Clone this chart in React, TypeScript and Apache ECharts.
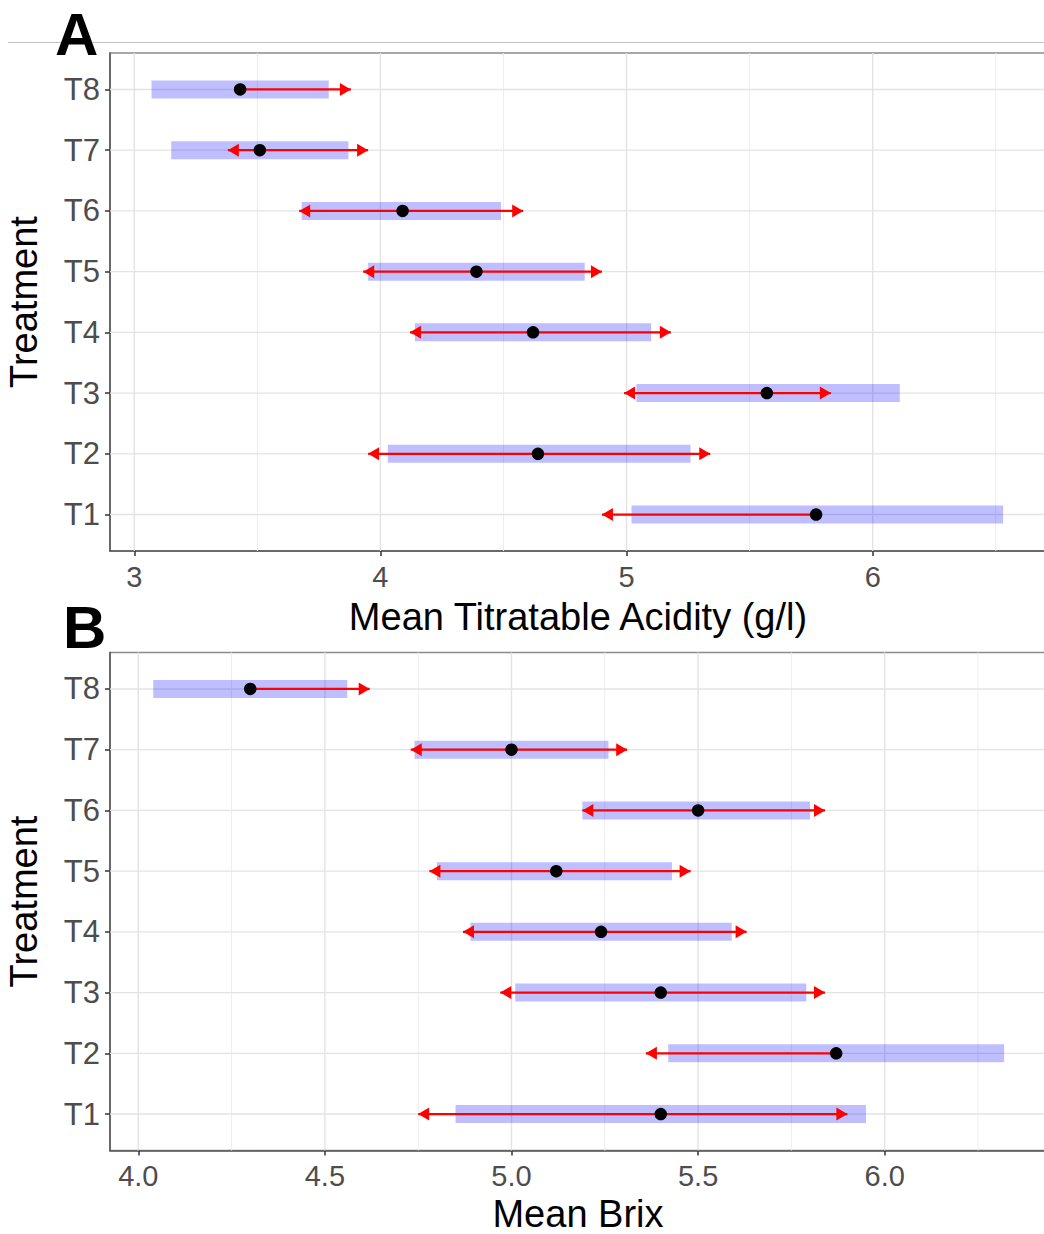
import React, { useEffect, useRef } from "react";
import * as echarts from "echarts";

// ---------- data ----------
const categories = ["T1", "T2", "T3", "T4", "T5", "T6", "T7", "T8"];
const yPositions = [1, 2, 3, 4, 5, 6, 7, 8];

// Panel A: Mean Titratable Acidity (g/l)
const acidMean = [5.77, 4.64, 5.57, 4.62, 4.39, 4.09, 3.51, 3.43];
const acidBarLo = [5.02, 4.03, 5.04, 4.14, 3.95, 3.68, 3.15, 3.07];
const acidBarHi = [6.53, 5.26, 6.11, 5.1, 4.83, 4.49, 3.87, 3.79];
const acidArrowLo: (number | null)[] = [4.9, 3.95, 4.99, 4.12, 3.93, 3.67, 3.38, null];
const acidArrowHi: (number | null)[] = [null, 5.34, 5.83, 5.18, 4.9, 4.58, 3.95, 3.88];
const acidTicks = [3, 4, 5, 6];
const acidMinor = [3.5, 4.5, 5.5, 6.5];

// Panel B: Mean Brix
const brixMean = [5.4, 5.87, 5.4, 5.24, 5.12, 5.5, 5.0, 4.3];
const brixBarLo = [4.85, 5.42, 5.01, 4.89, 4.8, 5.19, 4.74, 4.04];
const brixBarHi = [5.95, 6.32, 5.79, 5.59, 5.43, 5.8, 5.26, 4.56];
const brixArrowLo: (number | null)[] = [4.75, 5.36, 4.97, 4.87, 4.78, 5.19, 4.73, null];
const brixArrowHi: (number | null)[] = [5.9, null, 5.84, 5.63, 5.48, 5.84, 5.31, 4.62];
const brixTicks = [4.0, 4.5, 5.0, 5.5, 6.0];
const brixMinor = [4.25, 4.75, 5.25, 5.75, 6.25];

const Y_MIN = 0.4;
const Y_MAX = 8.6;
const FONT = "Liberation Sans, Arial, sans-serif";

type Panel = {
  mean: number[];
  barLo: number[];
  barHi: number[];
  arrLo: (number | null)[];
  arrHi: (number | null)[];
  ticks: number[];
  minor: number[];
  xMin: number;
  xMax: number;
  name: string;
  nameGap: number;
  fmt: (v: number) => string;
};

const panels: Panel[] = [
  {
    mean: acidMean, barLo: acidBarLo, barHi: acidBarHi, arrLo: acidArrowLo, arrHi: acidArrowHi,
    ticks: acidTicks, minor: acidMinor, xMin: 2.9013, xMax: 6.7041,
    name: "Mean Titratable Acidity (g/l)", nameGap: 49, fmt: (v) => String(v),
  },
  {
    mean: brixMean, barLo: brixBarLo, barHi: brixBarHi, arrLo: brixArrowLo, arrHi: brixArrowHi,
    ticks: brixTicks, minor: brixMinor, xMin: 3.9242, xMax: 6.4322,
    name: "Mean Brix", nameGap: 46, fmt: (v) => v.toFixed(1),
  },
];

function buildOption() {
  const grids: any[] = [];
  const xAxes: any[] = [];
  const yAxes: any[] = [];
  const series: any[] = [];
  const tops = [53, 652.5];

  panels.forEach((p, i) => {
    grids.push({
      left: 110, top: tops[i], width: 936, height: 498,
      containLabel: false, outerBoundsMode: "none",
      show: true, borderColor: "#8c8c8c", borderWidth: 1.5, backgroundColor: "transparent",
    });
    xAxes.push({
      type: "value", gridIndex: i, min: p.xMin, max: p.xMax,
      name: p.name, nameLocation: "middle", nameGap: p.nameGap,
      nameTextStyle: { fontSize: 38, lineHeight: 34, color: "#000", fontFamily: FONT },
      axisLine: { show: true, lineStyle: { color: "#555", width: 1.5 } },
      axisTick: { show: true, length: 5, customValues: p.ticks, lineStyle: { color: "#333", width: 1.5 } },
      axisLabel: { customValues: p.ticks, fontSize: 29, color: "#4D4D4D", fontFamily: FONT, margin: 11, formatter: p.fmt },
      splitLine: { show: false },
    });
    yAxes.push({
      type: "value", gridIndex: i, min: Y_MIN, max: Y_MAX,
      name: "Treatment", nameLocation: "middle", nameGap: 67, nameRotate: 90,
      nameTextStyle: { fontSize: 38, color: "#000", fontFamily: FONT },
      axisLine: { show: true, lineStyle: { color: "#555", width: 1.5 } },
      axisTick: { show: true, length: 5, customValues: yPositions, lineStyle: { color: "#333", width: 1.5 } },
      axisLabel: {
        customValues: yPositions, fontSize: 31, color: "#4D4D4D", fontFamily: FONT, margin: 10,
        formatter: (v: number) => categories[Math.round(v) - 1] ?? "",
      },
      splitLine: { show: false },
    });

    // vertical major grid lines
    series.push({
      type: "custom", xAxisIndex: i, yAxisIndex: i, silent: true,
      data: p.ticks.map((v) => [v, Y_MIN]),
      renderItem: (params: any, api: any) => {
        const a = api.coord([api.value(0), Y_MIN]);
        const b = api.coord([api.value(0), Y_MAX]);
        return { type: "line", shape: { x1: a[0], y1: a[1], x2: b[0], y2: b[1] }, style: { stroke: "#E3E3E3", lineWidth: 1.4 } };
      },
    });
    // vertical minor grid lines
    series.push({
      type: "custom", xAxisIndex: i, yAxisIndex: i, silent: true,
      data: p.minor.map((v) => [v, Y_MIN]),
      renderItem: (params: any, api: any) => {
        const a = api.coord([api.value(0), Y_MIN]);
        const b = api.coord([api.value(0), Y_MAX]);
        return { type: "line", shape: { x1: a[0], y1: a[1], x2: b[0], y2: b[1] }, style: { stroke: "#EDEDED", lineWidth: 1 } };
      },
    });
    // horizontal grid lines
    series.push({
      type: "custom", xAxisIndex: i, yAxisIndex: i, silent: true,
      data: yPositions.map((y) => [p.xMin, y]),
      renderItem: (params: any, api: any) => {
        const a = api.coord([p.xMin, api.value(1)]);
        const b = api.coord([p.xMax, api.value(1)]);
        return { type: "line", shape: { x1: a[0], y1: a[1], x2: b[0], y2: b[1] }, style: { stroke: "#E3E3E3", lineWidth: 1.4 } };
      },
    });
    // translucent bars
    series.push({
      type: "custom", xAxisIndex: i, yAxisIndex: i, silent: true,
      encode: { x: [0, 1], y: 2 },
      data: yPositions.map((y, k) => [p.barLo[k], p.barHi[k], y]),
      renderItem: (params: any, api: any) => {
        const a = api.coord([api.value(0), api.value(2)]);
        const b = api.coord([api.value(1), api.value(2)]);
        return { type: "rect", shape: { x: a[0], y: a[1] - 9, width: b[0] - a[0], height: 18 }, style: { fill: "rgba(0,0,255,0.25)" } };
      },
    });
    // arrows
    series.push({
      type: "custom", xAxisIndex: i, yAxisIndex: i, silent: true,
      data: yPositions.map((y, k) => [p.mean[k], y]),
      renderItem: (params: any, api: any) => {
        const k = params.dataIndex;
        const yv = api.value(1);
        const m = api.coord([api.value(0), yv]);
        const lo = p.arrLo[k];
        const hi = p.arrHi[k];
        const L = lo != null ? api.coord([lo, yv]) : m;
        const H = hi != null ? api.coord([hi, yv]) : m;
        const children: any[] = [
          { type: "line", shape: { x1: L[0], y1: m[1], x2: H[0], y2: m[1] }, style: { stroke: "#FF0000", lineWidth: 2.2 } },
        ];
        const hl = 11, hw = 6.5;
        if (lo != null) {
          children.push({ type: "polygon", shape: { points: [[L[0], m[1]], [L[0] + hl, m[1] - hw], [L[0] + hl, m[1] + hw]] }, style: { fill: "#FF0000" } });
        }
        if (hi != null) {
          children.push({ type: "polygon", shape: { points: [[H[0], m[1]], [H[0] - hl, m[1] - hw], [H[0] - hl, m[1] + hw]] }, style: { fill: "#FF0000" } });
        }
        return { type: "group", children };
      },
    });
    // mean points
    series.push({
      type: "scatter", xAxisIndex: i, yAxisIndex: i, silent: true,
      symbol: "circle", symbolSize: 12.5, itemStyle: { color: "#000", opacity: 1 },
      data: yPositions.map((y, k) => [p.mean[k], y]),
    });
  });

  return {
    animation: false,
    backgroundColor: "#fff",
    grid: grids,
    xAxis: xAxes,
    yAxis: yAxes,
    series,
    graphic: [
      { type: "line", shape: { x1: 8, y1: 42.5, x2: 1044, y2: 42.5 }, style: { stroke: "#C4C4C4", lineWidth: 1 }, z: 0 },
      { type: "text", left: 55, top: 4, style: { text: "A", fontSize: 60, fontWeight: "bold", fill: "#000", fontFamily: FONT }, z: 10 },
      { type: "text", left: 63, top: 597, style: { text: "B", fontSize: 60, fontWeight: "bold", fill: "#000", fontFamily: FONT }, z: 10 },
    ],
  };
}

export default function App() {
  const ref = useRef<HTMLDivElement>(null);
  useEffect(() => {
    if (!ref.current) return;
    const chart = echarts.init(ref.current, undefined, { renderer: "svg" });
    chart.setOption(buildOption() as any);
    return () => chart.dispose();
  }, []);
  return <div ref={ref} style={{ position: "absolute", left: 0, top: 0, width: 1044, height: 1234 }} />;
}
